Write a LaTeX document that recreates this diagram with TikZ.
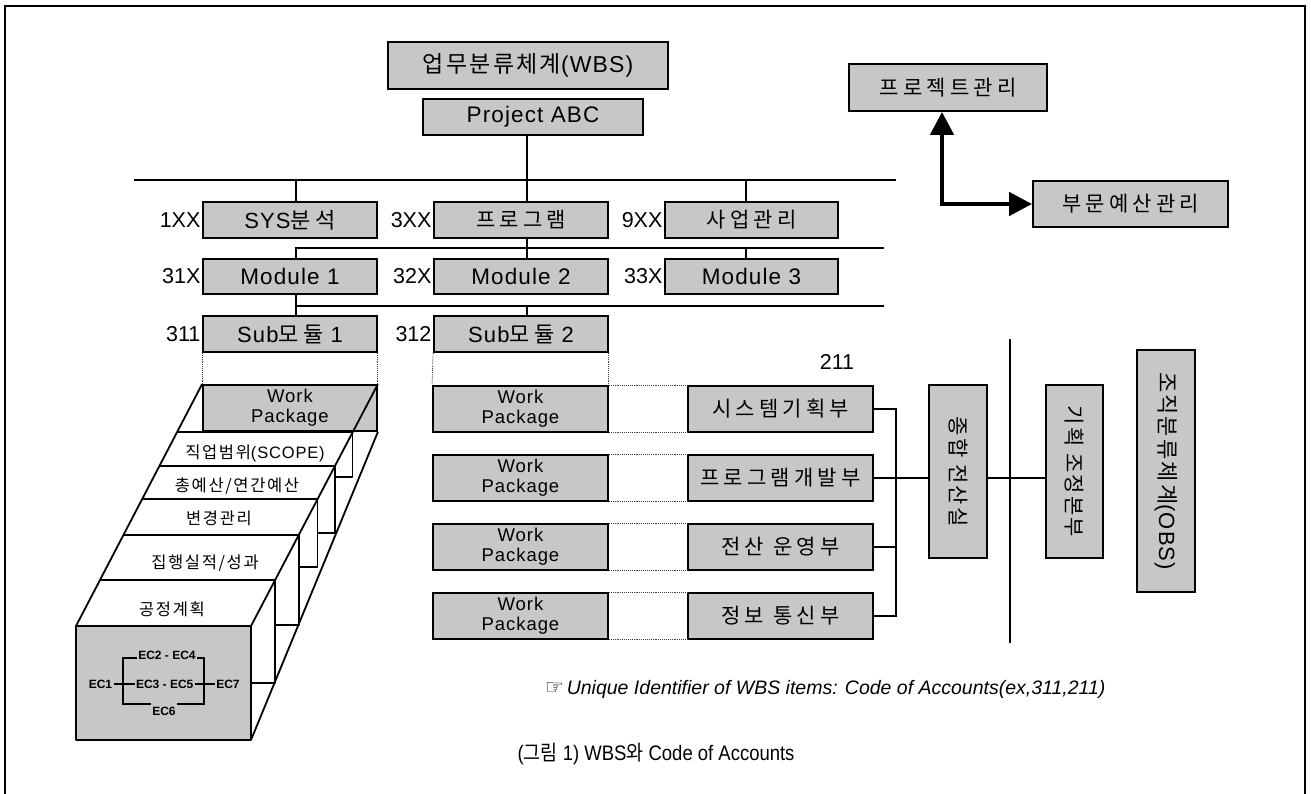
\documentclass[tikz,border=0pt]{standalone}
\usepackage{fontspec}
\setmainfont{Liberation Sans}
\newfontfamily\kr{Noto Sans CJK KR}
\newfontfamily\krs[LetterSpace=20]{Noto Sans CJK KR}
\newfontfamily\krc[LetterSpace=10]{Noto Sans CJK KR}
\newfontfamily\lats[LetterSpace=5]{Liberation Sans}
\newfontfamily\symf{DejaVu Sans}
\newcommand\fsz[1]{\fontsize{#1}{#1}\selectfont}
\usetikzlibrary{arrows.meta}
\begin{document}
\begin{tikzpicture}[x=1pt,y=-1pt,
  box/.style={draw=black, line width=1.8, fill=black!22, inner sep=0, align=center},
  lbl/.style={inner sep=1.5, anchor=east, font=\fsz{21.5}},
  wire/.style={line width=1.8},
  dots/.style={densely dotted, line width=0.9, black!75},
  ec/.style={inner sep=1.2, font=\fsz{12}\bfseries},
  card/.style={font=\fsz{16.5}\krc, inner sep=0},
  wptext/.style={font=\fontsize{18.5}{20}\selectfont\lats}
]
\useasboundingbox (0,0) rectangle (1311,794);
% frame
\draw[line width=2] (5,800) -- (5,6) -- (1305,6) -- (1305,800);

% ---------- WBS tree ----------
\node[box, minimum width=280, minimum height=47] (wbs) at (528,65.5) {\fsz{23}{\krc 업무분류체계}{\lats(WBS)}};
\node[box, minimum width=220, minimum height=36] (abc) at (533,117) {\fsz{22.5}\lats Project ABC};

\node[box, minimum width=174, minimum height=36] (sys) at (290,220) {\fsz{22}{\lats SYS}{\krs 분석}};
\node[box, minimum width=174, minimum height=36] (prg) at (521,220) {\fsz{21}\krs 프로그램};
\node[box, minimum width=173, minimum height=36] (biz) at (751.5,220) {\fsz{21}\krs 사업관리};

\node[box, minimum width=174, minimum height=35] (m1) at (290,276.5) {\fsz{22.5}\lats Module 1};
\node[box, minimum width=174, minimum height=35] (m2) at (521,276.5) {\fsz{22.5}\lats Module 2};
\node[box, minimum width=173, minimum height=35] (m3) at (751.5,276.5) {\fsz{22.5}\lats Module 3};

\node[box, minimum width=174, minimum height=36] (s1) at (290,334) {\fsz{22}{\lats Sub}{\krs 모듈}{\lats\ 1}};
\node[box, minimum width=174, minimum height=36] (s2) at (521,334) {\fsz{22}{\lats Sub}{\krs 모듈}{\lats\ 2}};

\node[lbl] (l1) at (sys.west) {1XX};
\node[lbl] (l3) at (prg.west) {3XX};
\node[lbl] (l9) at (biz.west) {9XX};
\node[lbl] (l31) at (m1.west) {31X};
\node[lbl] (l32) at (m2.west) {32X};
\node[lbl] (l33) at (m3.west) {33X};
\node[lbl] (l311) at (s1.west) {311};
\node[lbl] (l312) at (s2.west) {312};

\coordinate (b1a) at (134,180);
\coordinate (b1b) at (896,180);
\coordinate (d1) at (296,180);
\coordinate (d2) at (527,180);
\coordinate (d3) at (746,180);
\draw[wire] (b1a) -- (b1b);
\draw[wire] (abc.south -| d2) -- (d2);
\draw[wire] (d1) -- (d1 |- sys.north);
\draw[wire] (d2) -- (d2 |- prg.north);
\draw[wire] (d3) -- (d3 |- biz.north);

\coordinate (b2a) at (295,248);
\coordinate (b2b) at (884,248);
\draw[wire] (b2a) -- (b2b);
\draw[wire] (d2 |- prg.south) -- (d2 |- b2a);
\draw[wire] (d1 |- b2a) -- (d1 |- m1.north);
\draw[wire] (d2 |- b2a) -- (d2 |- m2.north);
\draw[wire] (d3 |- b2a) -- (d3 |- m3.north);

\coordinate (b3a) at (295,306);
\coordinate (b3b) at (884,306);
\draw[wire] (b3a) -- (b3b);
\draw[wire] (d1 |- m1.south) -- (d1 |- b3a);
\draw[wire] (d1 |- b3a) -- (d1 |- s1.north);
\draw[wire] (d2 |- b3a) -- (d2 |- s2.north);

% ---------- project mgmt arrows ----------
\node[box, minimum width=198, minimum height=47] (pm) at (948,87.5) {\fsz{21}\krs 프로젝트관리};
\node[box, minimum width=195, minimum height=46] (bm) at (1130.5,204) {\fsz{21}\krs 부문예산관리};
\coordinate (crn) at (942,204);
\draw[line width=4.5, line join=miter, {Triangle[length=23pt,width=23pt]}-{Triangle[length=23pt,width=23pt]}] (pm.south -| crn) -- (crn) -- (bm.west);

% ---------- left stack ----------
\node[box, minimum width=174, minimum height=46, wptext] (wpl) at (290,408) {Work\\Package};
\draw[dots] (s1.south west) -- (wpl.north west);
\draw[dots] (s1.south east) -- (wpl.north east);
\begin{scope}[wire, line join=round]
\draw (wpl.north west) -- (76,626);
\draw (wpl.north east) -- (251,626);
\draw (wpl.south east) -- (251,740);
\draw (178.2,432) -- (352.4,432) -- (352.4,477) -- (334.7,477);
\draw (160.3,466) -- (334.7,466) -- (334.7,533) -- (317.4,533);
\draw (142.9,499) -- (317.4,499) -- (317.4,567) -- (298.6,567);
\draw (124,535) -- (298.6,535) -- (298.6,625) -- (275.1,625);
\draw (100.2,580) -- (275.1,580) -- (275.1,683) -- (251,683);
\draw[fill=black!22] (76,626) rectangle (251,740);
\end{scope}
\node[card] (c1) at (255,453) {직업범위{\lats(SCOPE)}};
\node[card] (c2) at (237,486) {총예산/연간예산};
\node[card] (c3) at (219,518) {변경관리};
\node[card] (c4) at (205,563) {집행실적/성과};
\node[card] (c5) at (172,609) {공정계획};

% EC network
\node[ec] (ec24) at (167,655) {EC2 - EC4};
\node[ec] (ec1) at (100.5,684) {EC1};
\node[ec] (ec35) at (164.7,684) {EC3 - EC5};
\node[ec] (ec7) at (228,684) {EC7};
\node[ec] (ec6) at (164,711) {EC6};
\coordinate (btl) at (123,658);
\coordinate (bbl) at (123,704);
\coordinate (btr) at (204,658);
\coordinate (bbr) at (204,704);
\begin{scope}[line width=1.6]
\draw (ec24.west |- btl) -- (btl) -- (bbl) -- (ec6.west |- bbl);
\draw (ec24.east |- btr) -- (btr) -- (bbr) -- (ec6.east |- bbr);
\draw (ec1) -- (ec35);
\draw (ec35) -- (ec7);
\end{scope}

% ---------- work packages and org ----------
\foreach \i/\y in {1/409,2/478,3/547,4/616}{
  \node[box, minimum width=175, minimum height=46, wptext] (wp\i) at (520.5,\y) {Work\\Package};
}
\node[box, minimum width=185, minimum height=46] (o1) at (780.5,409) {\fsz{21}\krs 시스템기획부};
\node[box, minimum width=185, minimum height=46] (o2) at (780.5,478) {\fsz{21}\krs 프로그램개발부};
\node[box, minimum width=185, minimum height=46] (o3) at (780.5,547) {\fsz{21}\krs 전산 운영부};
\node[box, minimum width=185, minimum height=46] (o4) at (780.5,616) {\fsz{21}\krs 정보 통신부};
\draw[dots] (s2.south west) -- (wp1.north west);
\draw[dots] (s2.south east) -- (wp1.north east);
\foreach \i in {1,2,3,4}{
  \draw[dots] (wp\i.north east) -- (o\i.north west);
  \draw[dots] (wp\i.south east) -- (o\i.south west);
}
\node[font=\fsz{21.5}] (n211) at (837,362) {211};

\node[box, minimum width=58, minimum height=173] (dc) at (958,471.5) {};
\node[rotate=-90, inner sep=0, font=\fsz{21}\krc] (dct) at (dc.center) {종합 전산실};
\node[box, minimum width=57, minimum height=173] (pc) at (1074.5,471.5) {};
\node[rotate=-90, inner sep=0, font=\fsz{21}\krc] (pct) at (pc.center) {기획 조정본부};
\node[box, minimum width=58, minimum height=242] (obs) at (1166,471) {};
\node[rotate=-90, inner sep=0, font=\fsz{22}] (obst) at (obs.center) {{\krc 조직분류체계}{\lats(OBS)}};

\coordinate (vx) at (896,409);
\draw[wire] (o1.east) -- (vx) -- (vx |- o4.east) -- (o4.east);
\draw[wire] (o2.east) -- (vx |- o2.east);
\draw[wire] (o3.east) -- (vx |- o3.east);
\draw[wire] (vx |- o2.east) -- (dc.west |- o2.east);
\draw[wire] (dc.east |- o2.east) -- (pc.west |- o2.east);
\coordinate (vd1) at (1010,339);
\coordinate (vd2) at (1010,643);
\draw[wire] (vd1) -- (vd2);

% ---------- notes ----------
\node[anchor=west, inner sep=0] (note) at (545,689) {{\fsz{21}\symf ☞}\ \fsz{19.5}\itshape Unique Identifier of WBS items: Code of Accounts(ex,311,211)};
\node[inner sep=0] (cap) at (656,754) {\scalebox{0.88}[1]{\fsz{21}({\kr 그림} 1) WBS{\kr 와} Code of Accounts}};
\end{tikzpicture}
\end{document}
